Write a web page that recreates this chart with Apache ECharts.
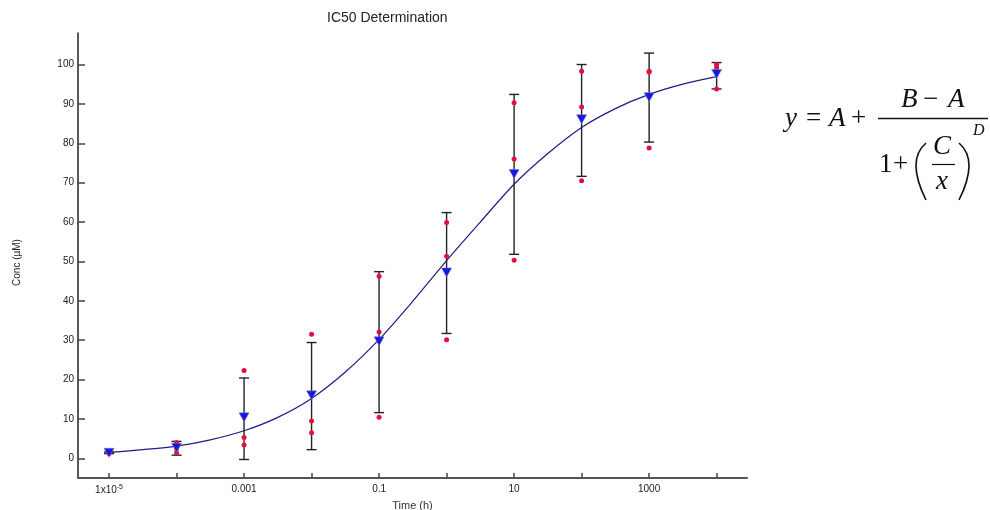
<!DOCTYPE html>
<html>
<head>
<meta charset="utf-8">
<script src="https://cdn.jsdelivr.net/npm/echarts@6/dist/echarts.min.js"></script>
<style>
  html, body { margin: 0; padding: 0; background: #fff; }
  #chart { width: 990px; height: 510px; }
</style>
</head>
<body>
<div id="chart"></div>
<script>
// doses (h) and readings
var doses = [1e-5, 1e-4, 1e-3, 1e-2, 0.1, 1, 10, 100, 1000, 1e4];
var rep1 = [1.2, 4.0, 22.3, 31.5, 46.2, 59.9, 90.3, 98.3, 98.1, 100.0];
var rep2 = [1.4, 2.5, 5.3, 9.5, 32.1, 51.3, 76.0, 89.2, 98.3, 99.2];
var rep3 = [1.6, 1.4, 3.4, 6.5, 10.4, 30.1, 50.3, 70.5, 78.8, 93.8];
var means = [1.4, 2.7, 10.4, 16.0, 29.7, 47.2, 72.2, 86.1, 91.7, 97.6];
var errLow = [1.2, 0.8, -0.3, 2.2, 11.6, 31.7, 51.8, 71.6, 80.3, 93.8];
var errHigh = [1.6, 4.3, 20.4, 29.4, 47.4, 62.4, 92.4, 100.0, 102.9, 100.5];

// fitted curve, every half decade
var fitX = [1e-5, 3.162e-5, 1e-4, 3.162e-4, 1e-3, 3.162e-3, 1e-2, 3.162e-2, 0.1, 0.3162,
            1, 3.162, 10, 31.62, 100, 316.2, 1000, 3162, 1e4];
var fitY = [1.5, 2.2, 3.1, 4.7, 7.0, 10.4, 15.2, 21.9, 30.2, 39.9,
            50.2, 60.0, 69.6, 77.4, 84.0, 88.8, 92.4, 95.0, 96.9];

var xTicks = [1e-5, 1e-4, 1e-3, 1e-2, 0.1, 1, 10, 100, 1000, 1e4];
var xLabels = [1e-5, 1e-3, 0.1, 10, 1000];
var yTicks = [0, 10, 20, 30, 40, 50, 60, 70, 80, 90, 100];

function pairs(xs, ys) {
  var out = [];
  for (var i = 0; i < xs.length; i++) out.push([xs[i], ys[i]]);
  return out;
}

var repData = pairs(doses, rep1).concat(pairs(doses, rep2), pairs(doses, rep3));
var errData = [];
for (var i = 0; i < doses.length; i++) errData.push([doses[i], errLow[i], errHigh[i]]);

var myChart = echarts.init(document.getElementById('chart'));
var serif = '"Liberation Serif", "DejaVu Serif", serif';
var sans = '"Liberation Sans", Arial, sans-serif';

myChart.setOption({
  animation: false,
  title: {
    text: 'IC50 Determination',
    left: 322,
    top: 6,
    textStyle: { fontFamily: sans, fontSize: 14, fontWeight: 'normal', color: '#222' }
  },
  grid: { left: 78, right: 243, top: 33, bottom: 32, containLabel: false, outerBoundsMode: 'none' },
  xAxis: {
    type: 'log',
    logBase: 10,
    min: Math.pow(10, -5.46),
    max: Math.pow(10, 4.45),
    name: 'Time (h)',
    nameLocation: 'middle',
    nameGap: 21,
    nameTextStyle: { fontFamily: sans, fontSize: 11, color: '#333' },
    axisLine: { onZero: false, lineStyle: { color: '#555', width: 2 } },
    axisTick: { inside: true, length: 5, customValues: xTicks, lineStyle: { color: '#444', width: 1.5 } },
    axisLabel: {
      customValues: xLabels,
      margin: 6,
      fontFamily: sans,
      fontSize: 10,
      color: '#1a1a1a',
      formatter: function (v) {
        if (Math.abs(v - 1e-5) < 1e-9) return '1x10{sup|-5}';
        return String(v);
      },
      rich: { sup: { fontSize: 7, verticalAlign: 'top', padding: [0, 0, 6, 0], fontFamily: sans, color: '#1a1a1a' } }
    },
    splitLine: { show: false }
  },
  yAxis: {
    type: 'value',
    min: -5,
    max: 108,
    name: 'Conc (µM)',
    nameLocation: 'middle',
    nameGap: 56,
    nameTextStyle: { fontFamily: sans, fontSize: 10, color: '#222', padding: [0, 0, 0, -14] },
    axisLine: { show: true, lineStyle: { color: '#222', width: 1.5 } },
    axisTick: { show: true, inside: true, length: 7, customValues: yTicks, lineStyle: { color: '#444', width: 1.5 } },
    axisLabel: { customValues: yTicks, margin: 4, fontFamily: sans, fontSize: 10, color: '#1a1a1a' },
    splitLine: { show: false }
  },
  series: [
    {
      name: 'fit',
      type: 'line',
      data: pairs(fitX, fitY),
      smooth: 0.3,
      showSymbol: false,
      lineStyle: { color: '#1c1c8a', width: 1.2 },
      z: 2
    },
    {
      name: 'sd',
      type: 'custom',
      data: errData,
      renderItem: function (params, api) {
        var x = api.value(0);
        var lo = api.coord([x, api.value(1)]);
        var hi = api.coord([x, api.value(2)]);
        var hw = 5;
        var st = { stroke: '#222', lineWidth: 1.4 };
        return {
          type: 'group',
          children: [
            { type: 'line', shape: { x1: lo[0], y1: lo[1], x2: hi[0], y2: hi[1] }, style: st },
            { type: 'line', shape: { x1: lo[0] - hw, y1: lo[1], x2: lo[0] + hw, y2: lo[1] }, style: st },
            { type: 'line', shape: { x1: hi[0] - hw, y1: hi[1], x2: hi[0] + hw, y2: hi[1] }, style: st }
          ]
        };
      },
      z: 3
    },
    {
      name: 'replicates',
      type: 'scatter',
      data: repData,
      symbol: 'circle',
      symbolSize: 5,
      itemStyle: { color: '#e3103a', opacity: 1 },
      z: 4
    },
    {
      name: 'mean',
      type: 'scatter',
      data: pairs(doses, means),
      symbol: 'triangle',
      symbolRotate: 180,
      symbolSize: [10, 9],
      itemStyle: { color: '#1616e8', borderColor: '#7a7ab0', borderWidth: 0.6, opacity: 1 },
      z: 5
    }
  ],
  graphic: [
    { type: 'text', left: 785, top: 105, style: { text: 'y', font: 'italic 27px ' + serif, fill: '#111' } },
    { type: 'text', left: 806, top: 105, style: { text: '=', font: '27px ' + serif, fill: '#111' } },
    { type: 'text', left: 829, top: 105, style: { text: 'A', font: 'italic 27px ' + serif, fill: '#111' } },
    { type: 'text', left: 851, top: 105, style: { text: '+', font: '27px ' + serif, fill: '#111' } },
    { type: 'text', left: 901, top: 86, style: { text: 'B', font: 'italic 27px ' + serif, fill: '#111' } },
    { type: 'text', left: 923, top: 86, style: { text: '\u2212', font: '27px ' + serif, fill: '#111' } },
    { type: 'text', left: 948, top: 86, style: { text: 'A', font: 'italic 27px ' + serif, fill: '#111' } },
    { type: 'line', shape: { x1: 878, y1: 118.5, x2: 988, y2: 118.5 }, style: { stroke: '#111', lineWidth: 1.3 } },
    { type: 'text', left: 879, top: 151, style: { text: '1', font: '27px ' + serif, fill: '#111' } },
    { type: 'text', left: 893, top: 151, style: { text: '+', font: '27px ' + serif, fill: '#111' } },
    { type: 'bezierCurve', shape: { x1: 926, y1: 143, x2: 926, y2: 200, cpx1: 906, cpy1: 160 }, style: { stroke: '#111', lineWidth: 1.6, fill: null } },
    { type: 'bezierCurve', shape: { x1: 959, y1: 143, x2: 959, y2: 200, cpx1: 979, cpy1: 160 }, style: { stroke: '#111', lineWidth: 1.6, fill: null } },
    { type: 'text', left: 933, top: 133, style: { text: 'C', font: 'italic 27px ' + serif, fill: '#111' } },
    { type: 'line', shape: { x1: 932, y1: 164.5, x2: 955, y2: 164.5 }, style: { stroke: '#111', lineWidth: 1.2 } },
    { type: 'text', left: 936, top: 168, style: { text: 'x', font: 'italic 27px ' + serif, fill: '#111' } },
    { type: 'text', left: 973, top: 123, style: { text: 'D', font: 'italic 16px ' + serif, fill: '#111' } }
  ]
});
</script>
</body>
</html>
